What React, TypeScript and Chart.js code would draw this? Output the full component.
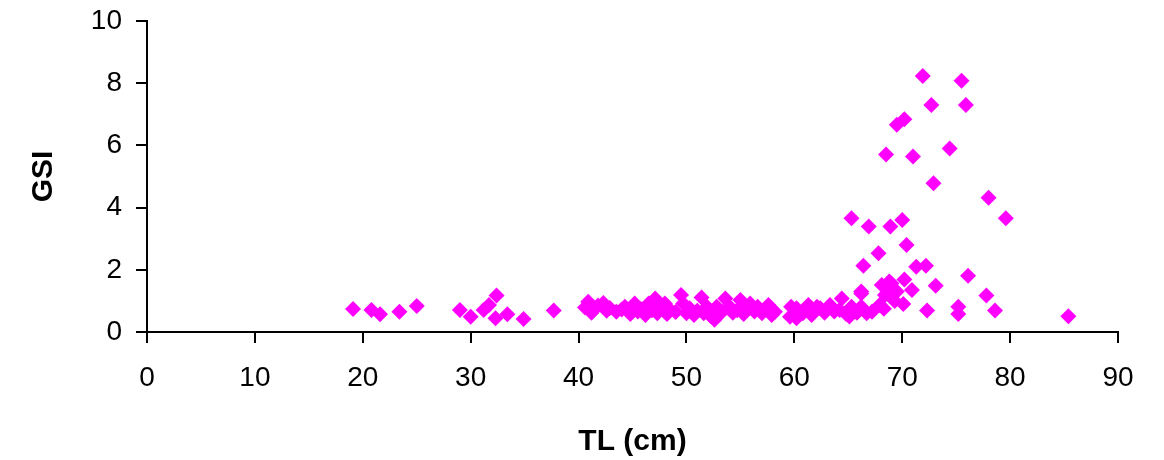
import React, { useEffect, useRef } from "react";
import { Chart, registerables } from "chart.js";

Chart.register(...registerables);

// TL (cm) values
const tlValues: number[] = [
  19.1, 20.8, 21.6, 23.4, 25.0, 29.0, 30.0, 31.2, 31.7, 32.4, 32.3, 33.4, 34.9, 37.7,
  40.6, 40.9, 41.2, 41.8, 42.3, 42.6, 42.9, 43.5, 44.0, 44.3, 44.8, 45.2, 45.5, 45.8,
  46.2, 46.5, 46.8, 47.1, 47.3, 47.5, 48.0, 48.2, 48.5, 49.0, 49.5, 49.7, 50.0, 50.3,
  50.7, 51.0, 51.4, 51.6, 51.9, 52.3, 52.6, 52.8, 53.0, 53.3, 53.6, 54.0, 54.3, 54.7,
  55.0, 55.3, 55.6, 55.9, 56.3, 56.6, 57.0, 57.3, 57.6, 57.9, 58.2, 59.6, 59.7, 60.2,
  60.2, 60.8, 61.3, 61.6, 62.1, 62.4, 62.8, 63.3, 63.7, 64.2, 64.4, 64.8, 65.1, 65.3,
  65.8, 66.2, 66.2, 66.7, 67.2, 67.9, 68.4,
  65.3, 66.9, 68.9, 70.0, 70.4, 67.8, 66.4, 71.3, 72.2, 76.1, 70.2, 73.1, 70.9, 66.2,
  68.1, 69.0, 68.6, 77.8, 70.1, 72.3, 75.2, 75.2, 78.6, 68.8, 69.3, 68.3, 69.5,
  68.5, 71.0, 74.4, 72.9, 78.0, 79.6,
  71.9, 75.5, 72.7, 75.9, 70.2, 69.5,
  85.4,
];

// GSI values
const gsiValues: number[] = [
  0.74, 0.71, 0.57, 0.65, 0.84, 0.71, 0.49, 0.71, 0.87, 1.17, 0.44, 0.57, 0.42, 0.69,
  0.79, 0.97, 0.62, 0.85, 0.93, 0.68, 0.77, 0.65, 0.72, 0.81, 0.58, 0.92, 0.66, 0.73,
  0.55, 0.92, 0.70, 1.08, 0.60, 0.81, 0.92, 0.58, 0.71, 0.64, 1.19, 0.92, 0.60, 0.76,
  0.55, 0.68, 1.11, 0.60, 0.81, 0.50, 0.39, 0.81, 0.55, 0.66, 1.08, 0.81, 0.62, 0.70,
  1.03, 0.58, 0.81, 0.92, 0.66, 0.81, 0.60, 0.72, 0.87, 0.55, 0.65, 0.49, 0.81, 0.76,
  0.44, 0.60, 0.87, 0.55, 0.81, 0.76, 0.62, 0.87, 0.66, 0.71, 1.08, 0.58, 0.50, 0.81,
  0.62, 1.24, 0.81, 0.60, 0.65, 0.87, 1.19,
  3.66, 3.39, 3.39, 3.60, 2.80, 2.53, 2.13, 2.10, 2.13, 1.81, 1.69, 1.49, 1.35, 1.30,
  1.51, 1.56, 1.25, 1.17, 0.90, 0.69, 0.81, 0.58, 0.69, 1.62, 1.00, 0.75, 1.30,
  5.71, 5.64, 5.90, 4.78, 4.32, 3.66,
  8.23, 8.08, 7.30, 7.30, 6.84, 6.66,
  0.51,
];

const xTicks: number[] = [0, 10, 20, 30, 40, 50, 60, 70, 80, 90];
const yTicks: number[] = [0, 2, 4, 6, 8, 10];

export default function App() {
  const ref = useRef<HTMLCanvasElement | null>(null);

  useEffect(() => {
    document.body.style.margin = "0";
    if (!ref.current) return;
    const points = tlValues.map((x, i) => ({ x, y: gsiValues[i] }));
    const font = "'Liberation Sans', Arial, sans-serif";
    const chart = new Chart(ref.current, {
      type: "scatter",
      data: {
        datasets: [
          {
            data: points,
            pointStyle: "rectRot",
            pointRadius: 8,
            pointHoverRadius: 8,
            backgroundColor: "#FF00FF",
            borderColor: "#FF00FF",
            borderWidth: 0,
          },
        ],
      },
      options: {
        animation: false,
        responsive: true,
        maintainAspectRatio: false,
        layout: { padding: { top: 21, right: 46, left: 0, bottom: 0 } },
        plugins: { legend: { display: false }, tooltip: { enabled: false } },
        scales: {
          x: {
            type: "linear",
            min: 0,
            max: 90,
            afterBuildTicks: (s: any) => {
              s.ticks = xTicks.map((v) => ({ value: v }));
            },
            ticks: { color: "#000", font: { family: font, size: 28 }, padding: 18, maxRotation: 0 },
            grid: { drawOnChartArea: false, drawTicks: true, tickLength: 11, color: "#000", lineWidth: 2 },
            border: { color: "#000", width: 2 },
            title: {
              display: true,
              text: "TL (cm)",
              color: "#000",
              font: { family: font, size: 30, weight: "bold" },
              padding: { top: 0, bottom: 0 },
            },
            afterFit: (s: any) => {
              s.height = 128;
              s.paddingLeft = 0;
              s.paddingRight = 0;
            },
          },
          y: {
            type: "linear",
            min: 0,
            max: 10,
            afterBuildTicks: (s: any) => {
              s.ticks = yTicks.map((v) => ({ value: v }));
            },
            ticks: { color: "#000", font: { family: font, size: 28 }, padding: 14 },
            grid: { drawOnChartArea: false, drawTicks: true, tickLength: 11, color: "#000", lineWidth: 2 },
            border: { color: "#000", width: 2 },
            title: {
              display: true,
              text: "GSI",
              color: "#000",
              font: { family: font, size: 30, weight: "bold" },
              padding: { top: 26, bottom: 0 },
            },
            afterFit: (s: any) => {
              s.width = 147;
              s.paddingTop = 0;
              s.paddingBottom = 0;
            },
          },
        },
      },
    });
    return () => chart.destroy();
  }, []);

  return (
    <div style={{ width: 1164, height: 460, position: "relative" }}>
      <canvas ref={ref} />
    </div>
  );
}
